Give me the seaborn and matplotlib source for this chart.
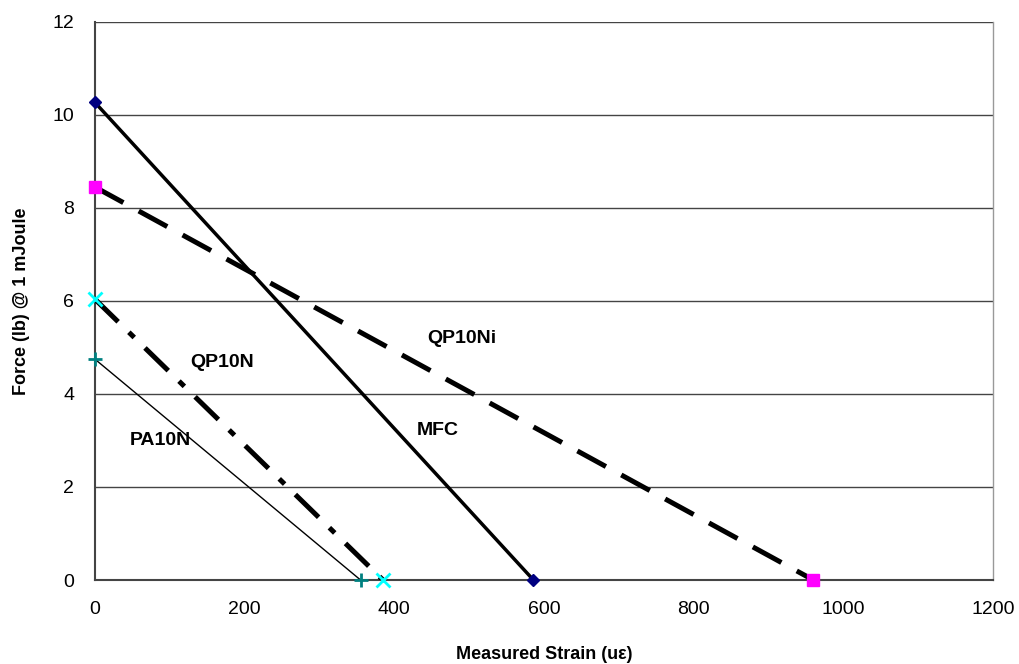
import matplotlib
matplotlib.use("Agg")
import matplotlib.pyplot as plt
import seaborn as sns
import pandas as pd

series_names = ["MFC", "QP10Ni", "QP10N", "PA10N"]
strain_mfc = [0, 586]
force_mfc = [10.27, 0]
strain_qp10ni = [0, 960]
force_qp10ni = [8.45, 0]
strain_qp10n = [0, 385]
force_qp10n = [6.04, 0]
strain_pa10n = [0, 355]
force_pa10n = [4.75, 0]
x_ticks = [0, 200, 400, 600, 800, 1000, 1200]
y_ticks = [0, 2, 4, 6, 8, 10, 12]

sns.set_style("white")
plt.rcParams['font.family'] = ['Liberation Sans', 'DejaVu Sans']
plt.rcParams['text.color'] = 'black'
plt.rcParams['axes.labelcolor'] = 'black'

fig = plt.figure(figsize=(10.2, 6.64), dpi=100)
ax = fig.add_axes([0.093, 0.1265, 0.8805, 0.8405])

styles = {
    "MFC": dict(color="black", lw=2.5, ls="-", marker="D", mfc="#000080", mec="#000080", ms=6),
    "QP10Ni": dict(color="black", lw=3.6, ls=(0, (6.5, 3.5)), marker="s", mfc="#FF00FF", mec="#FF00FF", ms=8),
    "QP10N": dict(color="black", lw=3.6, ls=(0, (6.5, 3, 1.5, 3)), marker="x", mfc="#00FFFF", mec="#00FFFF", ms=10, mew=2),
    "PA10N": dict(color="black", lw=1.0, ls="-", marker="+", mfc="#008080", mec="#008080", ms=10, mew=2),
}
data = {
    "MFC": (strain_mfc, force_mfc),
    "QP10Ni": (strain_qp10ni, force_qp10ni),
    "QP10N": (strain_qp10n, force_qp10n),
    "PA10N": (strain_pa10n, force_pa10n),
}
for name in series_names:
    xs, ys = data[name]
    df = pd.DataFrame({"x": xs, "y": ys})
    st = styles[name]
    sns.lineplot(data=df, x="x", y="y", ax=ax, color=st["color"], linewidth=st["lw"],
                 linestyle=st["ls"], zorder=3)
    ax.plot(xs, ys, ls="none", marker=st["marker"], markerfacecolor=st["mfc"],
            markeredgecolor=st["mec"], markersize=st["ms"], markeredgewidth=st.get("mew", 1),
            zorder=4, clip_on=False)

labels = {"QP10Ni": (490, 5.2), "QP10N": (170, 4.68), "MFC": (458, 3.22), "PA10N": (88, 3.0)}
for name, (lx, ly) in labels.items():
    ax.text(lx, ly, name, fontsize=14, fontweight="bold", ha="center", va="center",
            color="black", zorder=5)

ax.set_xlim(0, 1200)
ax.set_ylim(0, 12)
ax.set_xticks(x_ticks)
ax.set_yticks(y_ticks)
ax.tick_params(axis="both", labelsize=14, direction="out", length=7, width=1, colors="#444444",
               labelcolor="black", pad=8)
ax.yaxis.grid(True, color="#444444", linewidth=1)
ax.set_axisbelow(True)
for s in ["left", "bottom"]:
    ax.spines[s].set_color("#444444")
    ax.spines[s].set_linewidth(1.5)
ax.spines["right"].set_color("#999999")
ax.spines["right"].set_linewidth(1)
ax.spines["top"].set_visible(False)

ax.set_xlabel("Measured Strain (uε)", fontsize=13, fontweight="bold", labelpad=20, color="black")
ax.set_ylabel("Force (lb) @ 1 mJoule", fontsize=13, fontweight="bold", labelpad=16, color="black")

fig.savefig("out.png", dpi=100)
